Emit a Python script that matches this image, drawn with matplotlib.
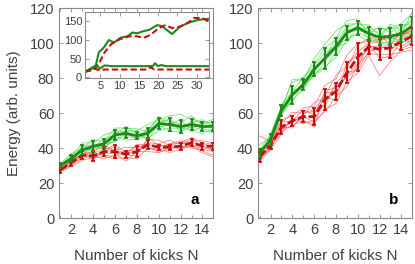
import numpy as np
import matplotlib.pyplot as plt

plt.rcParams['font.family'] = ['Liberation Sans', 'DejaVu Sans']

# Datos
kicks = np.arange(1, 16)

# panel a: medias y barras de error
a_green = [30, 34, 39, 41, 42.5, 47.5, 48.5, 47, 48.5, 54, 53.5, 52.3, 53.5, 52.3, 52.5]
a_green_err = [1.5, 2, 3, 3, 2.5, 3, 3, 2, 3, 3, 3.5, 3.5, 3, 2.5, 2.5]
a_red = [27.5, 31.7, 36, 35.5, 38, 38, 36.5, 38, 42, 40.5, 40.5, 41.2, 43, 41.2, 41]
a_red_err = [1.5, 2, 2.5, 3, 2.5, 3.5, 2, 3, 2.5, 1.5, 1.5, 2, 2, 2, 2]

# panel b: medias y barras de error
b_green = [37, 45, 61.5, 70.5, 76.5, 85, 91.5, 98, 106, 109, 105.5, 103.5, 104, 105.5, 110]
b_green_err = [2.5, 3, 3, 5, 3, 4, 6, 5, 4, 4, 4, 4.5, 5, 5, 5]
b_red = [35, 41.8, 52, 55.5, 58, 58, 68, 72.5, 83, 92, 98, 96.5, 97.5, 101, 104]
b_red_err = [3, 2.5, 4, 3, 3, 5, 6, 5, 6, 8, 4, 6, 6, 5, 5]

# desviaciones de las trazas individuales (lineas finas)
a_green_dev = [
    [0, 1, 4, 2, 5, 2, 1, 3, 5, 2, 5, 7, 3, 2, 4],
    [-1, -1, -3, 0, -2, -3, -1, 0, -3, -4, -2, -1, -3, -4, -1],
    [1, 3, 1, 4, 1, 4, 3, 4, 1, 4, 1, 2, 5, 1, 3],
    [-1, 0, -1, -4, -3, -1, -4, -2, -1, -1, -4, -3, -1, -2, -4],
    [0, -2, 2, -1, 3, 0, 4, 1, 0, 1, 3, 0, 1, 4, 0],
    [1, 0, -3, 1, -4, 1, 0, -2, 3, -2, 0, 4, -4, 0, 1],
    [0, 2, 0, -2, 0, -4, 2, 2, -4, 0, 3, -3, 2, -1, -3],
    [0, -1, 2, 1, -1, 2, -2, -1, 2, 3, -1, 1, -2, 2, 2],
]
a_red_dev = [
    [0, 1, 3, 4, 2, 1, 4, 2, 1, 2, 4, 1, 2, 0, -2],
    [-1, -2, -3, -1, -3, -4, -2, -4, -2, -1, -3, -2, -1, -3, -5],
    [1, 0, 1, -2, 1, 4, 1, -1, 3, 4, 1, 2, 3, 2, 1],
    [0, -1, -1, 1, -1, -1, -4, 0, -4, -3, 0, -1, -2, -4, -6],
    [-1, 2, 0, 2, 4, 0, 0, 4, 0, 0, 2, 3, 0, 1, 0],
    [1, -1, -2, 0, -4, -2, 2, 1, -1, -3, -1, 0, -3, -2, -3],
    [0, 1, 3, -2, 0, 3, -1, -2, 4, 1, 1, -2, 1, 3, 2],
    [-1, -2, 1, 2, -2, -3, 1, 3, -2, -2, 2, 2, -2, -1, -2],
]
b_green_dev = [
    [2, 3, 2, 7, 4, 3, 6, 4, 3, 3, 2, 5, 4, 6, 7],
    [-2, -2, -2, -3, -3, -2, -5, -6, -4, -3, -2, -3, -4, -3, -5],
    [5, 1, 0, 9, 2, 6, 8, 9, 5, 2, 5, 1, 7, 2, 3],
    [0, -1, -3, -1, -1, -4, -2, -1, -3, -4, -5, -2, -1, -4, -3],
    [-1, 2, 3, 2, 4, 1, 0, 5, 7, 5, 0, 6, 2, 5, 1],
    [1, 0, -1, -4, 0, -3, -6, -3, 0, -1, 3, -4, -3, 0, 8],
    [2, -3, 1, 1, -2, 2, 3, 0, -6, 1, -3, 0, 6, -2, -2],
    [-1, 1, -2, 3, -3, -1, 1, 2, 2, -2, 1, 3, -2, 3, 4],
]
b_red_dev = [
    [12, 2, 4, 3, 5, 6, 8, 7, 10, 8, 3, 6, 5, 4, 3],
    [-2, -1, -3, -2, -3, -4, -6, -7, -5, -9, -5, -15, -8, -5, -6],
    [3, 1, 2, 5, 2, 4, 2, 9, 4, 3, 2, 4, 8, 2, 4],
    [-3, -2, -1, -3, 0, -3, -7, -3, -8, -4, -4, -3, -4, -6, -8],
    [1, 3, 3, 0, 4, 1, 4, -1, 2, 7, 5, 8, 2, 5, 1],
    [0, -3, -4, 2, -4, -2, -2, 4, -3, -6, 2, -5, -5, 0, -3],
    [-1, 0, 1, -1, 1, 8, 1, -5, 6, 1, -2, 0, 3, -3, -2],
    [4, 2, -2, 1, -2, -6, 5, 2, -2, -3, 0, 2, -2, 3, 5],
    [-2, 0, 0, -4, 2, 3, -4, 5, 0, -7, -3, 1, 0, -4, -4],
]

# inset: N hasta 33
in_green_hi_x = [1, 3.8, 4.6, 5.9, 7.2, 8.5, 10.2, 12, 13.3, 14.6, 15.9, 17.6, 19.8, 21, 23.6, 25.8, 28.4, 30.5, 33.2]
in_green_hi_y = [15, 32, 67, 80, 100, 93, 106, 110, 120, 118, 123, 127, 140, 137, 116, 137, 148, 154, 157]
in_red_hi_x = [1, 3.3, 4.8, 6.1, 7.8, 10, 12.6, 14.5, 16.3, 18, 20.2, 21.9, 23.6, 25.8, 28, 29.3, 31.4, 33.2]
in_red_hi_y = [15, 20, 41, 67, 89, 102, 110, 110, 106, 114, 132, 140, 132, 136, 148, 159, 159, 150]
in_green_lo_x = [1, 3.5, 4.2, 4.8, 6.1, 8, 12, 16, 18.6, 19.2, 19.9, 20.8, 22, 26, 30, 33.2]
in_green_lo_y = [15, 26, 32, 23, 32, 30, 30, 30, 30, 38, 30, 33, 30, 30, 30, 30]
in_red_lo_x = [1, 3.3, 4.6, 6, 10, 14, 17, 18, 19, 22, 26, 30, 33.2]
in_red_lo_y = [15, 25, 19, 21, 21, 21, 21, 27, 21, 21, 21, 21, 21]

green_thin = '#3ee03e'
green_thick = '#1c8a1c'
red_thin = '#ff5a5a'
red_thick = '#c41010'
frame = '#8a8a8a'
text_c = '#404040'


def style_axes(ax, labelsize=10.5):
    for s in ax.spines.values():
        s.set_color(frame)
        s.set_linewidth(0.8)
    ax.tick_params(direction='in', length=3, width=0.6, color=frame,
                   labelsize=labelsize, labelcolor=text_c,
                   top=True, right=True)
    ax.tick_params(which='minor', direction='in', length=2, width=0.6,
                   color=frame, top=True, right=True)


def draw_panel(ax, g, ge, gdev, r, re, rdev, letter):
    for d in gdev:
        ax.plot(kicks, np.array(g) + np.array(d), color=green_thin, lw=0.55, alpha=0.8, zorder=1)
    for d in rdev:
        ax.plot(kicks, np.array(r) + np.array(d), color=red_thin, lw=0.55, alpha=0.8, zorder=1)
    ax.errorbar(kicks, r, yerr=re, color=red_thick, lw=2.0, ls=(0, (3, 1)),
                elinewidth=1.5, capsize=1.5, capthick=1.3, zorder=3)
    ax.errorbar(kicks, g, yerr=ge, color=green_thick, lw=2.0,
                elinewidth=1.5, capsize=1.5, capthick=1.3, zorder=4)
    ax.set_xlim(0.88, 14.95)
    ax.set_ylim(0, 120)
    ax.set_xticks([2, 4, 6, 8, 10, 12, 14])
    ax.set_xticks(range(1, 16), minor=True)
    ax.set_yticks(range(0, 121, 20))
    ax.set_xlabel('Number of kicks N', fontsize=11, color=text_c, labelpad=9)
    ax.text(0.88, 0.085, letter, transform=ax.transAxes, fontsize=11,
            fontweight='bold', ha='center', va='center')
    style_axes(ax)


fig = plt.figure(figsize=(4.15, 2.64), dpi=100)
ax_a = fig.add_axes([0.1422, 0.1742, 0.372, 0.7944])
ax_b = fig.add_axes([0.6224, 0.1742, 0.371, 0.7944])

draw_panel(ax_a, a_green, a_green_err, a_green_dev, a_red, a_red_err, a_red_dev, 'a')
draw_panel(ax_b, b_green, b_green_err, b_green_dev, b_red, b_red_err, b_red_dev, 'b')
ax_a.set_ylabel('Energy (arb. units)', fontsize=11, color=text_c, labelpad=6)

# inset
ax_in = fig.add_axes([0.2048, 0.7027, 0.2988, 0.2518])
ax_in.plot(in_green_hi_x, in_green_hi_y, color=green_thick, lw=1.5)
ax_in.plot(in_red_hi_x, in_red_hi_y, color=red_thick, lw=1.5, ls=(0, (3, 1.5)))
ax_in.plot(in_green_lo_x, in_green_lo_y, color=green_thick, lw=1.5)
ax_in.plot(in_red_lo_x, in_red_lo_y, color=red_thick, lw=1.5, ls=(0, (3, 1.5)))
ax_in.set_xlim(1, 33.2)
ax_in.set_ylim(-3, 175)
ax_in.set_xticks([5, 10, 15, 20, 25, 30])
ax_in.set_yticks([0, 50, 100, 150])
style_axes(ax_in, labelsize=8)
ax_in.tick_params(pad=2)

fig.savefig('out.png', dpi=100)
